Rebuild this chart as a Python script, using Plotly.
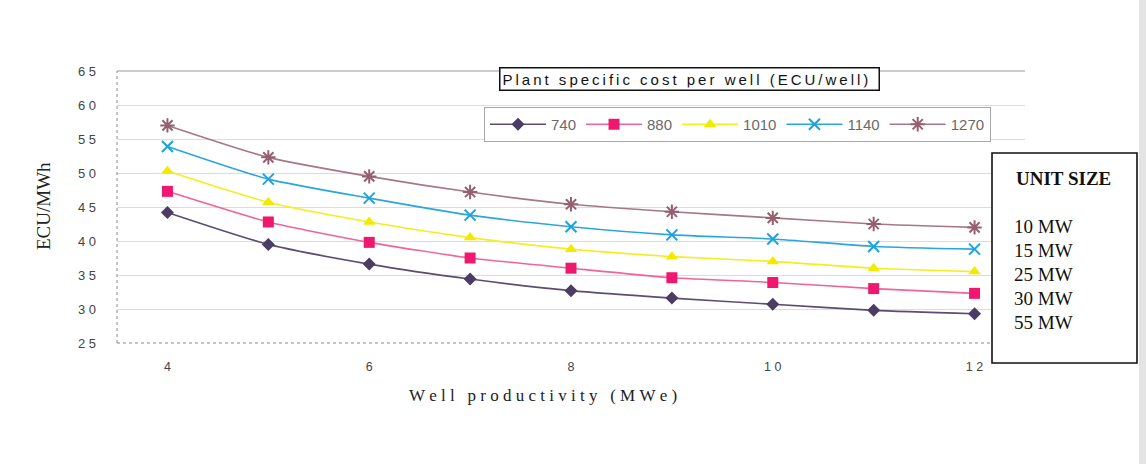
import plotly.graph_objects as go

# Well productivity (MWe) on the x axis
productivity = [4, 5, 6, 7, 8, 9, 10, 11, 12]

# Plant specific cost per well (ECU/well) -> generation cost (ECU/MWh)
cost_740 = [44.2, 39.5, 36.6, 34.4, 32.7, 31.6, 30.7, 29.8, 29.3]
cost_880 = [47.3, 42.8, 39.8, 37.5, 36.0, 34.6, 33.9, 33.0, 32.3]
cost_1010 = [50.3, 45.7, 42.8, 40.5, 38.8, 37.7, 37.0, 36.0, 35.5]
cost_1140 = [53.9, 49.1, 46.3, 43.8, 42.1, 40.9, 40.3, 39.2, 38.8]
cost_1270 = [57.0, 52.3, 49.5, 47.2, 45.4, 44.3, 43.4, 42.5, 42.0]

series_names = ["740", "880", "1010", "1140", "1270"]
unit_sizes = ["10 MW", "15 MW", "25 MW", "30 MW", "55 MW"]

y_ticks = [25, 30, 35, 40, 45, 50, 55, 60, 65]
x_ticks = [4, 6, 8, 10, 12]

THIN = "\u2009"
SANS = "Arial, Liberation Sans, sans-serif"
SERIF = "Liberation Serif, Times New Roman, serif"


def spaced(text, sep=THIN):
    return sep.join(text)


styles = [
    dict(line="#5b4d72", marker="#4a3c62", symbol="diamond", size=10, open=False),
    dict(line="#f2639a", marker="#f0186e", symbol="square", size=11, open=False),
    dict(line="#f4ee1e", marker="#f2ea00", symbol="triangle-up", size=11, open=False),
    dict(line="#2aa6dc", marker="#1da2de", symbol="x-thin-open", size=11, open=True),
    dict(line="#a67886", marker="#946070", symbol="asterisk-open", size=12, open=True),
]

all_series = [cost_740, cost_880, cost_1010, cost_1140, cost_1270]

fig = go.Figure()
for name, values, st in zip(series_names, all_series, styles):
    marker = dict(symbol=st["symbol"], size=st["size"], color=st["marker"])
    if st["open"]:
        marker["line"] = dict(color=st["marker"], width=2)
    else:
        marker["line"] = dict(width=0)
    fig.add_trace(go.Scatter(
        x=productivity, y=values, name=name, mode="lines+markers",
        line=dict(color=st["line"], width=1.6, shape="spline", smoothing=0.6),
        marker=marker,
    ))

W, H = 1146, 464
L, R, T, B = 117, 1025, 71, 343


def px_x(x):
    return (x - L) / (R - L)


def px_y(y):
    return (B - y) / (B - T)


shapes = [
    # top frame line
    dict(type="line", xref="paper", yref="paper", x0=0, x1=1, y0=1, y1=1,
         line=dict(color="#9a9a9a", width=1.2)),
    # dotted left and bottom frame
    dict(type="line", xref="paper", yref="paper", x0=0, x1=0, y0=0, y1=1,
         line=dict(color="#8a8a8a", width=1, dash="dot")),
    dict(type="line", xref="paper", yref="paper", x0=0, x1=1, y0=0, y1=0,
         line=dict(color="#8a8a8a", width=1, dash="dot")),
    # unit size box
    dict(type="rect", xref="paper", yref="paper",
         x0=px_x(992), x1=px_x(1137), y0=px_y(363), y1=px_y(153),
         fillcolor="white", line=dict(color="#111111", width=1.6), layer="above"),
    # page edge band
    dict(type="rect", xref="paper", yref="paper",
         x0=px_x(1139), x1=px_x(1146), y0=px_y(464), y1=px_y(0),
         fillcolor="#e4e4e4", line=dict(width=0), layer="above"),
]

annotations = [
    dict(text=spaced("Plant specific cost per well (ECU/well)"),
         xref="paper", yref="paper", x=px_x(499), y=px_y(79),
         xanchor="left", yanchor="middle", showarrow=False,
         font=dict(family=SANS, size=15, color="#111"),
         bordercolor="#111111", borderwidth=1.5, borderpad=2, bgcolor="white",
         width=374, align="left"),
    dict(text="ECU/MWh", xref="paper", yref="paper", x=px_x(43), y=px_y(206),
         textangle=-90, showarrow=False, xanchor="center", yanchor="middle",
         font=dict(family=SERIF, size=19, color="#222")),
    dict(text=spaced("Well productivity (MWe)", "\u2005"), xref="paper", yref="paper",
         x=px_x(543), y=px_y(395), showarrow=False, xanchor="center", yanchor="middle",
         font=dict(family=SERIF, size=17, color="#222")),
    dict(text="<b>UNIT SIZE</b>", xref="paper", yref="paper", x=px_x(1014), y=px_y(178),
         showarrow=False, xanchor="left", yanchor="middle",
         font=dict(family=SERIF, size=19, color="#111")),
]
for i, label in enumerate(unit_sizes):
    annotations.append(dict(
        text=label, xref="paper", yref="paper", x=px_x(1012), y=px_y(226 + 24 * i),
        showarrow=False, xanchor="left", yanchor="middle",
        font=dict(family=SERIF, size=19, color="#111")))

fig.update_layout(
    width=W, height=H,
    margin=dict(l=L, r=W - R, t=T, b=H - B),
    paper_bgcolor="white", plot_bgcolor="white",
    showlegend=True,
    legend=dict(
        orientation="h", x=px_x(484), y=px_y(107), xanchor="left", yanchor="top",
        bordercolor="#a8a8a8", borderwidth=1, bgcolor="white",
        font=dict(family=SANS, size=15, color="#6a6a6a"),
        itemwidth=56, tracegroupgap=0,
    ),
    xaxis=dict(
        range=[3.5, 12.5], tickvals=x_ticks, ticktext=[spaced(str(v), " ") for v in x_ticks],
        showgrid=False, zeroline=False, showline=False, ticks="",
        tickfont=dict(family=SANS, size=12.5, color="#444"),
        ticklabelstandoff=14,
    ),
    yaxis=dict(
        range=[25, 65], tickvals=y_ticks, ticktext=[spaced(str(v), " ") for v in y_ticks],
        showgrid=True, gridcolor="#dcdcdc", gridwidth=1, zeroline=False,
        showline=False, ticks="",
        tickfont=dict(family=SANS, size=13, color="#444"),
        ticklabelstandoff=20,
    ),
    shapes=shapes,
    annotations=annotations,
)

fig.write_html("out.html")
